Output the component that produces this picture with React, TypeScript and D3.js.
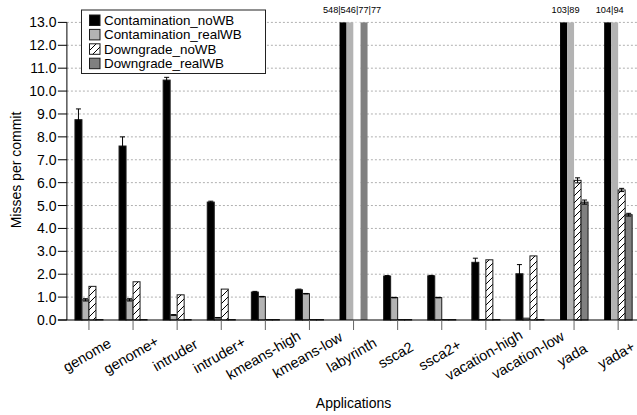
import React from "react";
import * as d3 from "d3";

const categories = ["genome", "genome+", "intruder", "intruder+", "kmeans-high", "kmeans-low", "labyrinth", "ssca2", "ssca2+", "vacation-high", "vacation-low", "yada", "yada+"];
const seriesNames = ["Contamination_noWB", "Contamination_realWB", "Downgrade_noWB", "Downgrade_realWB"];
const contaminationNoWB = [8.75, 7.6, 10.48, 5.15, 1.22, 1.32, 548, 1.92, 1.93, 2.52, 2.02, 103, 104];
const contaminationRealWB = [0.88, 0.88, 0.22, 0.1, 1.02, 1.15, 546, 0.98, 0.98, 0.02, 0.08, 89, 94];
const downgradeNoWB = [1.47, 1.67, 1.1, 1.35, 0.02, 0.02, 77, 0.02, 0.02, 2.63, 2.8, 6.1, 5.68];
const downgradeRealWB = [0.02, 0.02, 0.02, 0.02, 0.02, 0.02, 77, 0.02, 0.02, 0.02, 0.02, 5.15, 4.6];
const errContaminationNoWB = [0.47, 0.4, 0.12, 0.04, 0.03, 0.03, 0, 0.02, 0.02, 0.18, 0.4, 0, 0];
const errContaminationRealWB = [0.05, 0.05, 0.01, 0.01, 0.01, 0.01, 0, 0.01, 0.01, 0, 0, 0, 0];
const errDowngradeNoWB = [0, 0, 0, 0, 0, 0, 0, 0, 0, 0, 0, 0.11, 0.07];
const errDowngradeRealWB = [0, 0, 0, 0, 0, 0, 0, 0, 0, 0, 0, 0.09, 0.06];
const yTicks = [0, 1, 2, 3, 4, 5, 6, 7, 8, 9, 10, 11, 12, 13];
const yMax = 13;

const values = [contaminationNoWB, contaminationRealWB, downgradeNoWB, downgradeRealWB];
const errors = [errContaminationNoWB, errContaminationRealWB, errDowngradeNoWB, errDowngradeRealWB];
const fills = ["#000000", "#b3b3b3", "url(#hatch)", "#808080"];

export default function App() {
  const W = 637, H = 415;
  const left = 66.9, right = 640.2, top = 22.4, bottom = 320;
  const x = d3.scaleBand<string>().domain(categories).range([left, right]).padding(0);
  const y = d3.scaleLinear().domain([0, yMax]).range([bottom, top]);
  const bw = 7;
  const font = "'Liberation Sans', Arial, Helvetica, sans-serif";

  const bars: React.ReactNode[] = [];
  const errs: React.ReactNode[] = [];
  const overLabels: React.ReactNode[] = [];
  categories.forEach((c, ci) => {
    const cx = (x(c) as number) + x.bandwidth() / 2;
    const over: number[] = [];
    const overX: number[] = [];
    values.forEach((arr, si) => {
      const v = arr[ci];
      const bx = cx - 2 * bw + si * bw;
      const clipped = Math.min(v, yMax);
      const isOver = v > yMax;
      if (isOver) { over.push(v); overX.push(bx + bw / 2); }
      const noDraw = isOver && si === 2;
      bars.push(
        <rect key={`b${ci}-${si}`} x={bx} y={y(clipped)} width={bw} height={y(0) - y(clipped)}
          fill={noDraw ? "#fff" : fills[si]} stroke={noDraw || isOver ? "none" : "#1a1a1a"} strokeWidth={1} />
      );
      const e = errors[si][ci];
      if (e > 0 && !isOver) {
        const y1 = y(v + e), y2 = y(v - e);
        errs.push(
          <g key={`e${ci}-${si}`} stroke="#000" strokeWidth={1}>
            <line x1={bx + bw / 2} x2={bx + bw / 2} y1={y1} y2={y2} />
            <line x1={bx + bw / 2 - 2.5} x2={bx + bw / 2 + 2.5} y1={y1} y2={y1} />
            <line x1={bx + bw / 2 - 2.5} x2={bx + bw / 2 + 2.5} y1={y2} y2={y2} />
          </g>
        );
      }
    });
    if (over.length) {
      const mx = (d3.min(overX)! + d3.max(overX)!) / 2 - 1.5;
      overLabels.push(
        <text key={`o${ci}`} x={mx} y={13} fontSize={9.2} textAnchor="middle" fontFamily={font} fill="#000">
          {over.join("|")}
        </text>
      );
    }
  });

  return (
    <svg width={W} height={H} style={{ position: "absolute", left: 0, top: 0, background: "#fff" }}>
      <defs>
        <pattern id="hatch" patternUnits="userSpaceOnUse" width={7} height={7}>
          <rect width={7} height={7} fill="#fff" />
          <path d="M-1,8 L8,-1 M-1,1 L1,-1 M6,8 L8,6" stroke="#000" strokeWidth={1} />
        </pattern>
      </defs>
      {yTicks.filter(t => t > 0).map(t => (
        <line key={`g${t}`} x1={left} x2={W} y1={y(t)} y2={y(t)} stroke="#b0b0b0" strokeWidth={1} strokeDasharray="2,2" />
      ))}
      {bars}
      {errs}
      <line x1={left} x2={left} y1={top} y2={bottom} stroke="#000" strokeWidth={1} />
      <line x1={left - 9} x2={W} y1={bottom} y2={bottom} stroke="#000" strokeWidth={1} />
      {yTicks.map(t => (
        <g key={`yt${t}`}>
          <line x1={left - 9} x2={left} y1={y(t)} y2={y(t)} stroke="#000" strokeWidth={1} />
          <text x={56.5} y={y(t)} dy="0.36em" textAnchor="end" fontSize={14} fontFamily={font} fill="#000">
            {t.toFixed(1)}
          </text>
        </g>
      ))}
      {categories.map(c => {
        const cx = (x(c) as number) + x.bandwidth() / 2;
        return (
          <g key={`xt${c}`}>
            <line x1={cx} x2={cx} y1={bottom} y2={bottom + 10} stroke="#666" strokeWidth={1} />
            <text transform={`translate(${cx - 2},${355}) rotate(-30)`} textAnchor="middle" dy="0.35em"
              fontSize={14.5} fontFamily={font} fill="#000">{c}</text>
          </g>
        );
      })}
      {overLabels}
      <text transform={`translate(21,170) rotate(-90)`} textAnchor="middle" fontSize={14} fontFamily={font} fill="#000">
        Misses per commit
      </text>
      <text x={(left + right) / 2} y={408} textAnchor="middle" fontSize={14} fontFamily={font} fill="#000">
        Applications
      </text>
      <rect x={81.5} y={10} width={184} height={63.5} fill="#fff" stroke="#222" strokeWidth={1} />
      {seriesNames.map((s, i) => (
        <g key={`l${s}`}>
          <rect x={89.5} y={15 + i * 14.4} width={10.5} height={10.5} fill={fills[i]} stroke="#1a1a1a" strokeWidth={1} />
          <text x={104} y={25 + i * 14.4} fontSize={13.4} fontFamily={font} fill="#000">{s}</text>
        </g>
      ))}
    </svg>
  );
}
